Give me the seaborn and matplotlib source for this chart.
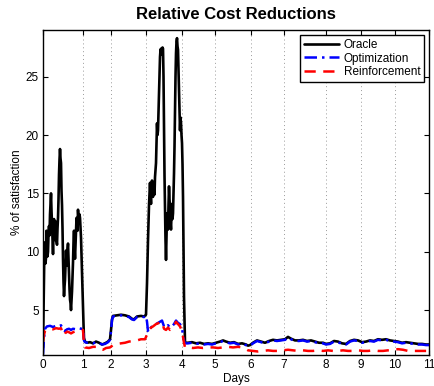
import matplotlib
matplotlib.use("Agg")
import matplotlib.pyplot as plt
import seaborn as sns

# Sample positions at which each day starts, and their labels
day_ticks = [0, 40, 68, 103, 139, 172, 208, 241, 283, 318, 352, 386]
day_labels = [str(d) for d in range(12)]

# Oracle
oracle_x = [0, 0.5, 1, 1.5, 2, 2.5, 3, 3.5, 4, 4.5, 5, 5.5, 6, 6.5, 7, 7.5, 8, 8.5, 9, 9.5,
            10, 10.5, 11, 11.5, 12, 12.5, 13, 13.5, 14, 14.5, 15, 15.5, 16, 16.5, 17, 17.5, 18, 18.5, 19, 19.5,
            20, 20.5, 21, 21.5, 22, 22.5, 23, 23.5, 24, 24.5, 25, 25.5, 26, 26.5, 27, 27.5, 28, 28.5, 29, 29.5,
            30, 30.5, 31, 31.5, 32, 32.5, 33, 33.5, 34, 34.5, 35, 35.5, 36, 36.5, 37, 37.5, 38, 38.5, 39, 39.5,
            40, 40.5, 41, 42, 44, 47, 50, 53, 56, 59, 62, 65, 67, 68, 69, 70, 74, 78, 82, 86,
            89, 91, 94, 98, 101, 103, 104, 105, 106, 107, 107.5, 108, 108.5, 109, 109.5, 110, 110.5, 111, 111.5, 112,
            112.5, 113, 113.5, 114, 114.5, 115, 115.5, 116, 116.5, 117, 117.5, 118, 118.5, 119, 119.5, 120, 120.5, 121, 121.5, 122,
            122.5, 123, 123.5, 124, 124.5, 125, 125.5, 126, 126.5, 127, 127.5, 128, 128.5, 129, 129.5, 130, 130.5, 131, 131.5, 132,
            132.5, 133, 133.5, 134, 134.5, 135, 135.5, 136, 136.5, 137, 137.5, 138, 138.5, 139, 139.5, 140, 140.5, 141, 142, 145,
            149, 153, 157, 161, 165, 169, 173, 177, 180, 183, 187, 191, 195, 199, 203, 205, 207, 210, 214, 218,
            222, 226, 230, 234, 238, 242, 245, 248, 252, 256, 260, 264, 268, 272, 276, 280, 283, 287, 291, 295,
            299, 303, 307, 311, 315, 319, 323, 327, 331, 335, 339, 343, 347, 351, 355, 359, 363, 367, 371, 375,
            379, 383, 386]
oracle_y = [1.8, 5.0, 8.0, 10.8, 10.2, 9.0, 9.5, 11.8, 11.0, 9.6, 10.0, 11.5, 12.2, 11.4, 13.2, 14.2, 15.0, 13.5, 12.4, 11.0,
            9.8, 11.6, 12.8, 11.5, 11.0, 12.6, 12.2, 10.9, 10.6, 12.0, 12.9, 14.5, 16.6, 17.9, 18.8, 18.0, 17.6, 15.2, 14.0, 12.0,
            9.4, 7.4, 6.2, 7.0, 7.6, 9.0, 10.1, 9.2, 8.8, 10.2, 10.7, 9.4, 8.3, 6.8, 5.9, 5.6, 5.0, 5.8, 6.6, 7.9,
            9.1, 10.8, 11.8, 10.3, 9.4, 10.6, 11.6, 12.9, 12.4, 11.8, 13.6, 12.9, 12.4, 13.2, 12.9, 12.0, 11.2, 9.7, 8.2, 6.4,
            5.2, 3.8, 2.6, 2.3, 2.2, 2.25, 2.15, 2.3, 2.2, 2.05, 2.15, 2.3, 2.5, 3.3, 4.2, 4.5, 4.55, 4.6, 4.55, 4.45,
            4.25, 4.2, 4.45, 4.5, 4.45, 4.6, 7.3, 11.0, 14.0, 15.9, 14.8, 14.1, 15.4, 16.1, 15.0, 14.7, 15.8, 15.6, 14.9, 16.4,
            17.0, 17.6, 19.4, 21.0, 20.0, 20.4, 22.0, 23.3, 25.0, 26.7, 27.3, 27.4, 26.9, 27.0, 27.5, 27.4, 25.0, 20.4, 16.5, 13.8,
            11.0, 9.3, 11.5, 13.3, 12.2, 11.9, 14.0, 15.6, 14.5, 13.8, 12.5, 11.9, 13.2, 14.1, 12.8, 13.3, 15.0, 16.7, 19.0, 22.1,
            25.0, 27.0, 28.0, 28.3, 27.6, 27.3, 25.5, 23.3, 21.5, 20.4, 21.5, 21.0, 20.0, 19.3, 17.5, 14.7, 10.0, 6.1, 2.2, 2.2,
            2.25, 2.15, 2.2, 2.1, 2.15, 2.1, 2.2, 2.3, 2.4, 2.3, 2.2, 2.25, 2.1, 2.15, 2.05, 1.95, 2.0, 2.2, 2.4, 2.3,
            2.2, 2.35, 2.45, 2.4, 2.45, 2.5, 2.7, 2.55, 2.4, 2.4, 2.45, 2.35, 2.4, 2.3, 2.2, 2.2, 2.1, 2.15, 2.35, 2.3,
            2.15, 2.1, 2.35, 2.45, 2.4, 2.25, 2.3, 2.4, 2.35, 2.5, 2.45, 2.5, 2.4, 2.35, 2.3, 2.2, 2.25, 2.2, 2.15, 2.1,
            2.1, 2.05, 2.05]

# Optimization
optim_x = [0, 1, 2, 4, 7, 10, 13, 16, 18, 19, 20, 22, 24, 26, 28, 30, 33, 36, 38, 40,
           41, 42, 44, 47, 50, 53, 56, 59, 62, 65, 67, 68, 69, 70, 74, 78, 82, 86, 89, 91,
           94, 98, 101, 103, 104, 105, 106, 107, 109, 111, 113, 115, 117, 119, 121, 123, 125, 127, 129, 131,
           133, 135, 137, 139, 141, 142, 145, 149, 153, 157, 161, 165, 169, 173, 177, 180, 183, 187, 191, 195,
           199, 203, 205, 207, 210, 214, 218, 222, 226, 230, 234, 238, 242, 245, 248, 252, 256, 260, 264, 268,
           272, 276, 280, 283, 287, 291, 295, 299, 303, 307, 311, 315, 319, 323, 327, 331, 335, 339, 343, 347,
           351, 355, 359, 363, 367, 371, 375, 379, 383, 386]
optim_y = [1.2, 2.6, 3.4, 3.6, 3.65, 3.55, 3.65, 3.6, 3.7, 3.5, 3.3, 3.2, 3.35, 3.4, 3.3, 3.4, 3.35, 3.45, 3.4, 3.4,
           2.4, 2.25, 2.2, 2.2, 2.15, 2.25, 2.2, 2.05, 2.1, 2.25, 2.45, 3.2, 4.15, 4.45, 4.5, 4.55, 4.5, 4.4, 4.2, 4.15,
           4.4, 4.45, 4.4, 4.5, 4.0, 3.2, 3.1, 3.4, 3.6, 3.7, 3.8, 3.9, 4.0, 4.1, 3.6, 3.5, 3.7, 3.5, 3.6, 3.8,
           4.1, 3.9, 3.8, 3.4, 2.4, 2.15, 2.15, 2.2, 2.1, 2.15, 2.05, 2.1, 2.05, 2.15, 2.25, 2.35, 2.25, 2.15, 2.2, 2.05,
           2.1, 2.0, 1.9, 1.95, 2.15, 2.35, 2.25, 2.15, 2.3, 2.4, 2.35, 2.4, 2.45, 2.65, 2.5, 2.35, 2.35, 2.4, 2.3, 2.35,
           2.25, 2.15, 2.15, 2.05, 2.1, 2.3, 2.25, 2.1, 2.05, 2.3, 2.4, 2.35, 2.2, 2.25, 2.35, 2.3, 2.45, 2.4, 2.45, 2.35,
           2.3, 2.25, 2.15, 2.2, 2.15, 2.1, 2.05, 2.05, 2.0, 2.0]

# Reinforcement
reinf_x = [0, 1, 2, 4, 7, 10, 13, 16, 18, 19, 20, 21, 22, 24, 26, 28, 30, 33, 36, 38,
           40, 41, 42, 46, 50, 54, 57, 60, 63, 67, 70, 74, 78, 82, 86, 90, 94, 98, 102, 104,
           106, 108, 110, 113, 116, 119, 121, 123, 125, 127, 129, 131, 133, 135, 137, 139, 141, 142, 146, 150,
           155, 160, 165, 170, 175, 180, 185, 190, 195, 199, 202, 205, 210, 215, 220, 225, 230, 235, 240, 245,
           250, 255, 260, 265, 270, 275, 280, 285, 290, 295, 300, 305, 310, 315, 320, 325, 330, 335, 340, 345,
           350, 355, 360, 365, 370, 375, 380, 386]
reinf_y = [2.3, 2.9, 3.2, 3.35, 3.4, 3.35, 3.45, 3.4, 3.45, 3.2, 2.9, 2.85, 3.0, 3.15, 3.1, 3.0, 3.1, 3.2, 3.25, 3.3,
           3.3, 2.0, 1.8, 1.75, 1.85, 1.85, 1.65, 1.6, 1.75, 1.8, 2.0, 2.1, 2.15, 2.2, 2.3, 2.35, 2.4, 2.5, 2.5, 2.9,
           3.3, 3.5, 3.6, 3.8, 3.9, 4.0, 3.4, 3.3, 3.5, 3.3, 3.4, 3.6, 4.0, 3.8, 3.6, 3.2, 2.2, 1.8, 1.8, 1.75,
           1.8, 1.75, 1.8, 1.8, 1.75, 1.8, 1.85, 1.8, 1.85, 1.8, 1.7, 1.55, 1.5, 1.45, 1.5, 1.55, 1.5, 1.5, 1.55, 1.6,
           1.55, 1.5, 1.55, 1.5, 1.5, 1.55, 1.5, 1.55, 1.5, 1.5, 1.55, 1.5, 1.5, 1.55, 1.5, 1.5, 1.55, 1.5, 1.5, 1.55,
           1.6, 1.65, 1.6, 1.5, 1.5, 1.5, 1.5, 1.5]

sns.set_style("ticks")
plt.rcParams["font.family"] = ["Liberation Sans", "DejaVu Sans"]
plt.rcParams["font.size"] = 8.5
for key in ("text.color", "axes.labelcolor", "xtick.color", "ytick.color"):
    plt.rcParams[key] = "black"

fig = plt.figure(figsize=(4.34, 3.86), dpi=100)
ax = fig.add_axes([0.0991, 0.0803, 0.8894, 0.8420])

sns.lineplot(x=oracle_x, y=oracle_y, ax=ax, color="black", linewidth=1.9,
             estimator=None, sort=False, label="Oracle")
sns.lineplot(x=optim_x, y=optim_y, ax=ax, color="#0000ff", linewidth=1.8,
             dashes=(5, 2, 1, 2), estimator=None, sort=False, label="Optimization")
sns.lineplot(x=reinf_x, y=reinf_y, ax=ax, color="#ff0000", linewidth=1.8,
             dashes=(4.5, 3), estimator=None, sort=False, label="Reinforcement")

ax.set_xlim(0, 386)
ax.set_ylim(1.15, 29.0)
ax.set_xticks(day_ticks)
ax.set_xticklabels(day_labels)
ax.set_yticks([5, 10, 15, 20, 25])

ax.xaxis.grid(True, linestyle=(0, (1, 3)), color="0.6", linewidth=0.7)
ax.yaxis.grid(False)

for sp in ax.spines.values():
    sp.set_visible(True)
    sp.set_color("black")
    sp.set_linewidth(1.0)

ax.tick_params(direction="in", top=True, right=True, length=3.5, width=0.8,
               labelsize=8.5, colors="black", pad=3)

ax.set_title("Relative Cost Reductions", fontsize=12, fontweight="bold", pad=8)
ax.set_xlabel("Days", fontsize=8.5, labelpad=1)
ax.set_ylabel("% of satisfaction", fontsize=8.5, labelpad=2)

leg = ax.legend(loc="upper right", fontsize=8.5, frameon=True, fancybox=False,
                edgecolor="black", framealpha=1, handlelength=3.0, handletextpad=0.35,
                labelspacing=0.15, borderpad=0.3, borderaxespad=0.45)
leg.get_frame().set_linewidth(1.0)

fig.savefig("out.png", dpi=100, facecolor="white")
